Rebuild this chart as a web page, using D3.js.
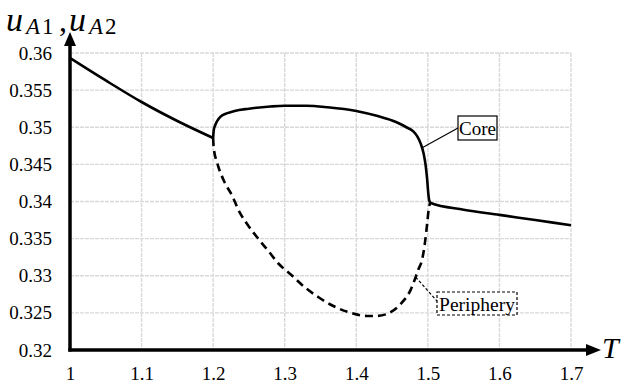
<!DOCTYPE html>
<html><head><meta charset="utf-8">
<script src="https://cdn.jsdelivr.net/npm/d3@7/dist/d3.min.js"></script>
<style>body{margin:0;background:#fff}svg{display:block}</style>
</head><body>
<svg id="c" width="624" height="385"></svg>
<script>
const xTicks = [1, 1.1, 1.2, 1.3, 1.4, 1.5, 1.6, 1.7];
const xTickLabels = ["1", "1.1", "1.2", "1.3", "1.4", "1.5", "1.6", "1.7"];
const yTicks = [0.32, 0.325, 0.33, 0.335, 0.34, 0.345, 0.35, 0.355, 0.36];
const yTickLabels = ["0.32", "0.325", "0.33", "0.335", "0.34", "0.345", "0.35", "0.355", "0.36"];

// Core: falling branch up to T = 1.2, then the upper branch and its tail
const coreT = [1.0, 1.05, 1.1, 1.15, 1.2, 1.2008, 1.203, 1.206, 1.21, 1.22, 1.23, 1.25, 1.28, 1.3, 1.33, 1.36, 1.4, 1.43, 1.45, 1.46, 1.47, 1.48, 1.485, 1.49, 1.494, 1.497, 1.499, 1.5005, 1.502, 1.504, 1.55, 1.6, 1.65, 1.7];
const coreU = [0.35933, 0.3563, 0.3534, 0.35084, 0.34855, 0.3496, 0.3503, 0.3509, 0.3514, 0.3519, 0.3522, 0.3525, 0.3528, 0.3529, 0.3529, 0.3527, 0.3522, 0.3515, 0.3509, 0.3505, 0.3500, 0.3494, 0.3488, 0.3478, 0.3465, 0.3448, 0.3430, 0.3412, 0.3401, 0.3398, 0.3389, 0.3382, 0.3375, 0.3368];
const coreBreakT = 1.2;

const periT = [1.2, 1.2007, 1.206, 1.216, 1.227, 1.2353, 1.2465, 1.2633, 1.2772, 1.2912, 1.3093, 1.3268, 1.3478, 1.3666, 1.3883, 1.4155, 1.43, 1.441, 1.462, 1.476, 1.487, 1.492, 1.496, 1.499, 1.501, 1.503];
const periU = [0.34855, 0.3473, 0.3451, 0.3426, 0.3407, 0.33886, 0.3371, 0.33495, 0.33333, 0.33165, 0.3301, 0.32855, 0.32707, 0.32599, 0.32512, 0.32458, 0.3246, 0.3248, 0.3262, 0.3281, 0.3309, 0.3322, 0.3345, 0.3370, 0.3388, 0.3398];

const svg = d3.select("#c");
const x = d3.scaleLinear().domain([1, 1.7]).range([70, 571]);
const y = d3.scaleLinear().domain([0.32, 0.36]).range([350, 53]);
const serif = "Liberation Serif";

// grid
const grid = svg.append("g").attr("stroke", "#d9d9d9").attr("stroke-width", 1.4).attr("stroke-dasharray", "4,1");
grid.selectAll("line.v").data(xTicks.slice(1)).join("line")
  .attr("x1", d => x(d)).attr("x2", d => x(d)).attr("y1", y(0.36)).attr("y2", y(0.32));
grid.selectAll("line.h").data(yTicks.slice(1)).join("line")
  .attr("x1", x(1)).attr("x2", x(1.7)).attr("y1", d => y(d)).attr("y2", d => y(d));

// axes with d3 axis generators (labels only)
const xAxis = svg.append("g").attr("transform", `translate(0,${y(0.32)})`)
  .call(d3.axisBottom(x).tickValues(xTicks).tickFormat((d, i) => xTickLabels[i]).tickSize(0).tickPadding(17));
xAxis.attr("font-family", null).attr("font-size", null);
xAxis.select(".domain").remove();
xAxis.selectAll("text").style("font-family", serif).style("font-size", "19px").attr("fill", "#000");

const yAxis = svg.append("g").attr("transform", `translate(${x(1)},0)`)
  .call(d3.axisLeft(y).tickValues(yTicks).tickFormat((d, i) => yTickLabels[i]).tickSize(0).tickPadding(18));
yAxis.attr("font-family", null).attr("font-size", null);
yAxis.select(".domain").remove();
yAxis.selectAll("text").style("font-family", serif).style("font-size", "19px").attr("fill", "#000");

// curves
const line = d3.line().x(d => x(d[0])).y(d => y(d[1])).curve(d3.curveMonotoneX);
const corePts = coreT.map((t, i) => [t, coreU[i]]);
const coreSegs = [corePts.filter(p => p[0] <= coreBreakT), corePts.filter(p => p[0] >= coreBreakT)];
svg.append("path").datum(periT.map((t, i) => [t, periU[i]]))
  .attr("d", line).attr("fill", "none").attr("stroke", "#000").attr("stroke-width", 2.6).attr("stroke-dasharray", "8,5");
svg.selectAll("path.core").data(coreSegs).join("path").attr("class", "core")
  .attr("d", line).attr("fill", "none").attr("stroke", "#000").attr("stroke-width", 2.6)
  .attr("stroke-linejoin", "round");

// axis lines with arrows
svg.append("line").attr("x1", 70).attr("x2", 70).attr("y1", 351.5).attr("y2", 44)
  .attr("stroke", "#000").attr("stroke-width", 3.5);
svg.append("path").attr("d", "M70,32 L64,46 L76,46 Z").attr("fill", "#000");
svg.append("line").attr("x1", 68.3).attr("x2", 588).attr("y1", 350).attr("y2", 350)
  .attr("stroke", "#000").attr("stroke-width", 3.5);
svg.append("path").attr("d", "M601,350 L586,344 L586,356 Z").attr("fill", "#000");

// axis titles
const tf = (sel) => sel.style("font-family", serif).attr("fill", "#000");
const parts = [
  {t: "u", x: 6, y: 31, s: 34, it: true},
  {t: "A", x: 26, y: 34, s: 23, it: true},
  {t: "1", x: 42, y: 34, s: 23, it: false},
  {t: ",", x: 59, y: 31, s: 32, it: false},
  {t: "u", x: 69, y: 31, s: 34, it: true},
  {t: "A", x: 89, y: 34, s: 23, it: true},
  {t: "2", x: 105, y: 34, s: 23, it: false}
];
parts.forEach(p => {
  svg.append("text").attr("x", p.x).attr("y", p.y).call(tf)
    .style("font-size", p.s + "px").style("font-style", p.it ? "italic" : "normal").text(p.t);
});

svg.append("text").attr("x", 602).attr("y", 358).call(tf).style("font-style", "italic")
  .style("font-size", "30px").text("T");

// Core label
svg.append("line").attr("x1", x(1.4915)).attr("y1", y(0.3472)).attr("x2", 458).attr("y2", 128)
  .attr("stroke", "#000").attr("stroke-width", 1.2);
svg.append("rect").attr("x", 458).attr("y", 116).attr("width", 39).attr("height", 24)
  .attr("fill", "#fff").attr("stroke", "#000").attr("stroke-width", 1.2);
svg.append("text").attr("x", 477.5).attr("y", 135).attr("text-anchor", "middle").call(tf)
  .style("font-size", "19px").text("Core");

// Periphery label
svg.append("line").attr("x1", x(1.483)).attr("y1", y(0.3298)).attr("x2", 437).attr("y2", 301)
  .attr("stroke", "#000").attr("stroke-width", 1.2).attr("stroke-dasharray", "3,2");
svg.append("rect").attr("x", 437).attr("y", 292).attr("width", 80).attr("height", 23)
  .attr("fill", "#fff").attr("stroke", "#000").attr("stroke-width", 1.2).attr("stroke-dasharray", "3,2");
svg.append("text").attr("x", 477).attr("y", 311).attr("text-anchor", "middle").call(tf)
  .style("font-size", "19.5px").text("Periphery");
</script>
</body></html>
